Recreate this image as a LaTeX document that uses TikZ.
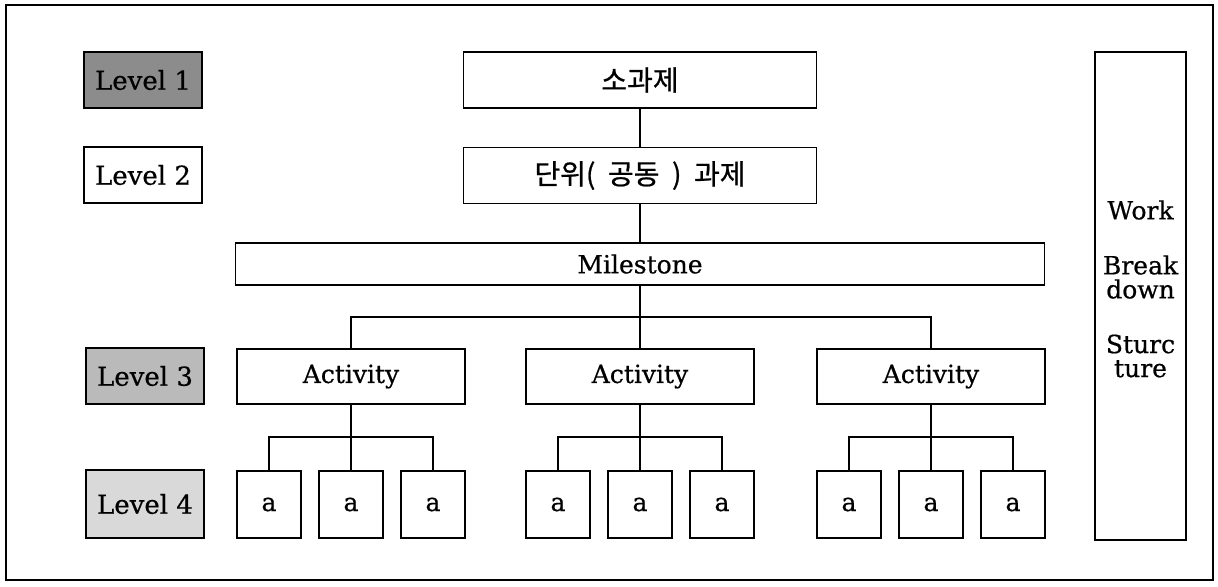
\documentclass[tikz,border=0pt]{standalone}
\usepackage{fontspec}
\setmainfont[FakeBold=0.6]{DejaVu Serif}
\newfontfamily\kor[WordSpace=2.0,FakeBold=0.8]{Noto Sans CJK KR}
\begin{document}
\begin{tikzpicture}[x=0.5pt,y=-0.5pt,
  box/.style={draw=black,line width=0.7pt,inner sep=0pt,outer sep=0pt,font=\fontsize{12.5}{14}\selectfont,align=center},
  lvl/.style={box,minimum width=59pt,minimum height=28pt,font=\fontsize{13}{15}\selectfont},
  wide/.style={box,minimum width=176.5pt,minimum height=28pt,font=\fontsize{14}{16}\selectfont},
  act/.style={box,minimum width=114pt,minimum height=27.5pt},
  leaf/.style={box,minimum width=32pt,minimum height=33.5pt},
  conn/.style={draw=black,line width=0.7pt}]
\useasboundingbox (0,0) rectangle (1218,586);
\draw[line width=0.8pt] (6,5) rectangle (1213,580);
% level labels
\node[lvl,fill=black!45] (l1) at (143,80) {Level 1};
\node[lvl] (l2) at (143,175) {Level 2};
\node[lvl,fill=black!27] (l3) at (145,376) {Level 3};
\node[lvl,fill=black!15,minimum height=34pt] (l4) at (145,504) {Level 4};
% main tree
\node[wide] (top) at (640,80) {\kor 소과제};
\node[wide] (unit) at (640,175.5) {\kor 단위( 공동 ) 과제};
\node[box,minimum width=404.5pt,minimum height=21pt] (ms) at (640,264) {Milestone};
\node[act] (a1) at (351,376.5) {Activity};
\node[act] (a2) at (640,376.5) {Activity};
\node[act] (a3) at (931,376.5) {Activity};
\coordinate (j0) at (640,317);
\draw[conn] (top) -- (unit);
\draw[conn] (unit) -- (ms);
\draw[conn] (ms) -- (a2);
\draw[conn] (a1.north) |- (j0) -| (a3.north);
% leaves
\foreach \g/\c in {1/351,2/640,3/931}{
  \node[leaf] (b\g1) at (\c-82,504.5) {a};
  \node[leaf] (b\g2) at (\c,504.5) {a};
  \node[leaf] (b\g3) at (\c+82,504.5) {a};
  \coordinate (j\g) at (\c,437);
  \draw[conn] (a\g) -- (b\g2);
  \draw[conn] (b\g1.north) |- (j\g) -| (b\g3.north);
}
% WBS
\node[box,minimum width=45.5pt,minimum height=244pt] (wbs) at (1140.5,296) {};
\node[font=\fontsize{12.5}{14}\selectfont] (w1) at (1140.5,210) {Work};
\node[font=\fontsize{12.5}{14}\selectfont,align=center] (w2) at (1140.5,277) {Break\\[-2pt]down};
\node[font=\fontsize{12.5}{14}\selectfont,align=center] (w3) at (1140.5,356) {Sturc\\[-2pt]ture};
\end{tikzpicture}
\end{document}
